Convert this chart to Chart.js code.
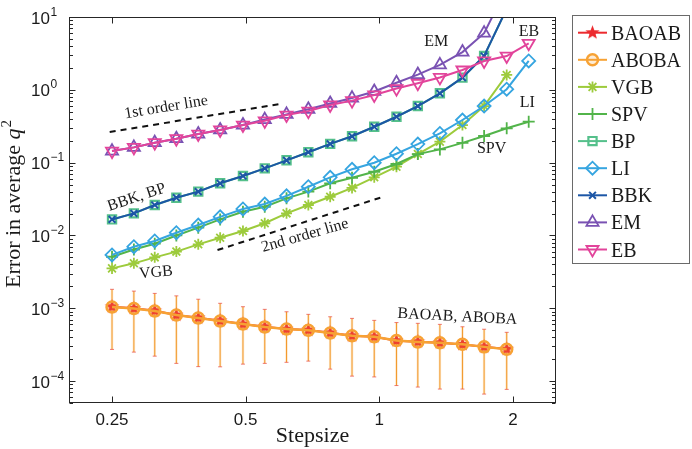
<!DOCTYPE html>
<html>
<head>
<meta charset="utf-8">
<script src="https://cdn.jsdelivr.net/npm/chart.js@4.4.0/dist/chart.umd.min.js"></script>
<style>
html, body { margin: 0; padding: 0; background: #fff; }
canvas { display: block; }
</style>
</head>
<body>
<canvas id="myChart" width="692" height="449"></canvas>
<script>
// stepsizes (shared x values)
const stepsizes = [0.25, 0.28, 0.312, 0.349, 0.391, 0.438, 0.493, 0.552, 0.618, 0.692,
                   0.775, 0.868, 0.974, 1.093, 1.221, 1.369, 1.539, 1.722, 1.936, 2.17];

// error in average q^2
const baoab = [0.00105, 0.000997, 0.000925, 0.000807, 0.00074, 0.000674, 0.000607, 0.000557, 0.000518, 0.000502,
               0.00046, 0.000419, 0.000406, 0.000358, 0.000347, 0.000336, 0.000319, 0.000296, 0.000275];
const aboba = [0.00104, 0.00099, 0.00092, 0.00081, 0.000735, 0.00067, 0.00061, 0.000555, 0.00052, 0.0005,
               0.000458, 0.00042, 0.000405, 0.00036, 0.000345, 0.000335, 0.00032, 0.000295, 0.000274];
const vgb = [0.00353, 0.00414, 0.0050, 0.0060, 0.00755, 0.0093, 0.0115, 0.0147, 0.0201, 0.0262,
             0.034, 0.045, 0.0628, 0.088, 0.131, 0.194, 0.328, 0.598, 1.6];
const spv = [0.0051, 0.0064, 0.0077, 0.0100, 0.0128, 0.0166, 0.0212, 0.0248, 0.0323, 0.040,
             0.052, 0.062, 0.075, 0.0957, 0.131, 0.152, 0.187, 0.232, 0.296, 0.365];
const bp = [0.0166, 0.0201, 0.0262, 0.033, 0.040, 0.052, 0.0655, 0.0835, 0.1076, 0.139,
            0.181, 0.23, 0.311, 0.427, 0.598, 0.895, 1.47, 2.91, 13];
const li = [0.0054, 0.0070, 0.0084, 0.0109, 0.0139, 0.018, 0.0231, 0.027, 0.035, 0.0467,
            0.0628, 0.081, 0.0997, 0.1325, 0.18, 0.252, 0.385, 0.599, 1.02, 2.49];
const bbk = [0.0166, 0.0201, 0.0262, 0.033, 0.040, 0.052, 0.0655, 0.0835, 0.1076, 0.139,
             0.181, 0.23, 0.311, 0.427, 0.598, 0.895, 1.47, 2.91, 13];
const em = [0.144, 0.162, 0.188, 0.213, 0.247, 0.281, 0.328, 0.39, 0.46, 0.54,
            0.65, 0.77, 0.95, 1.25, 1.62, 2.2, 3.3, 6.0, 25];
const eb = [0.144, 0.162, 0.188, 0.213, 0.247, 0.281, 0.328, 0.375, 0.45, 0.51,
            0.62, 0.71, 0.85, 1.04, 1.23, 1.48, 1.87, 2.49, 2.91, 4.35];

// error bars of the BAOAB / ABOBA runs
const errHigh = [0.00182, 0.00172, 0.0016, 0.00148, 0.00133, 0.00117, 0.00105, 0.000966, 0.000895, 0.000825,
                 0.000764, 0.000726, 0.000682, 0.000636, 0.000621, 0.000601, 0.000557, 0.000515, 0.000467];
const errLow = [0.000272, 0.00025, 0.00022, 0.000175, 0.000158, 0.000157, 0.000171, 0.000175, 0.000181, 0.000188,
                0.000146, 0.000117, 0.000114, 0.0000868, 0.0000828, 0.0000777, 0.0000777, 0.0000663, 0.0000769];

// reference slopes
const firstOrderX = [0.247, 0.597];
const firstOrderY = [0.263, 0.638];
const secondOrderX = [0.432, 1.016];
const secondOrderY = [0.0063, 0.0337];

// ticks
const xTicks = [0.25, 0.5, 1, 2];
const xTickLabels = ['0.25', '0.5', '1', '2'];
const yDecades = [-4, -3, -2, -1, 0, 1];

// text labels in the plot (data coordinates)
const notes = [
  { text: '1st order line', x: 0.331, y: 0.575, rot: -9.5 },
  { text: '2nd order line', x: 0.680, y: 0.00997, rot: -16 },
  { text: 'BBK, BP', x: 0.284, y: 0.0332, rot: -18.5 },
  { text: 'VGB', x: 0.314, y: 0.00309, rot: -5 },
  { text: 'EM', x: 1.344, y: 4.58, rot: 0 },
  { text: 'EB', x: 2.174, y: 6.22, rot: 0 },
  { text: 'LI', x: 2.155, y: 0.665, rot: 0 },
  { text: 'SPV', x: 1.79, y: 0.154, rot: 0 },
  { text: 'BAOAB, ABOBA', x: 1.499, y: 0.000764, rot: 3 }
];

const SERIF = '"Liberation Serif", "Times New Roman", serif';
const SANS = '"Liberation Sans", Arial, sans-serif';

function points(values) {
  return values.map((v, i) => ({ x: stepsizes[i], y: v }));
}

function makeStar(r, color) {
  const c = document.createElement('canvas');
  c.width = c.height = Math.ceil(r * 2 + 2);
  const g = c.getContext('2d');
  g.translate(c.width / 2, c.height / 2);
  g.beginPath();
  for (let i = 0; i < 10; i++) {
    const rr = i % 2 === 0 ? r : r * 0.42;
    const a = -Math.PI / 2 + i * Math.PI / 5;
    g.lineTo(rr * Math.cos(a), rr * Math.sin(a));
  }
  g.closePath();
  g.fillStyle = color;
  g.fill();
  return c;
}

const starImg = makeStar(7.5, '#ec2a2e');

function series(label, values, color, style, radius, order, extra) {
  return Object.assign({
    label: label,
    data: points(values),
    borderColor: color,
    backgroundColor: color,
    borderWidth: 2,
    pointStyle: style,
    pointRadius: radius,
    pointBorderWidth: 1.8,
    pointBorderColor: color,
    pointBackgroundColor: 'rgba(0,0,0,0)',
    tension: 0,
    clip: 0,
    order: order
  }, extra || {});
}

const datasets = [
  series('BAOAB', baoab, '#ec2a2e', starImg, 7, 9, { pointBackgroundColor: '#ec2a2e' }),
  series('ABOBA', aboba, '#f7a234', 'circle', 5.5, 8, { borderWidth: 2.5, pointBorderWidth: 2.5, pointBackgroundColor: 'rgba(247,162,52,0.2)' }),
  series('VGB', vgb, '#9dcb3c', 'star', 5.5, 7),
  series('SPV', spv, '#52b44a', 'cross', 6, 6),
  series('BP', bp, '#55c08b', 'rect', 5.8, 5, { pointBorderWidth: 2.2 }),
  series('LI', li, '#36a5e0', 'rectRot', 6.5, 4),
  series('BBK', bbk, '#1c56a6', 'crossRot', 4.8, 3, { pointBorderWidth: 2 }),
  series('EM', em, '#7a52b3', 'triangle', 7, 2),
  series('EB', eb, '#e2449b', 'triangle', 7, 1, { pointRotation: 180 }),
  {
    label: 'first', data: firstOrderX.map((x, i) => ({ x: x, y: firstOrderY[i] })),
    borderColor: '#111', borderWidth: 2, borderDash: [6, 5], pointRadius: 0, order: 0
  },
  {
    label: 'second', data: secondOrderX.map((x, i) => ({ x: x, y: secondOrderY[i] })),
    borderColor: '#111', borderWidth: 2, borderDash: [6, 5], pointRadius: 0, order: 0
  }
];

const legendNames = ['BAOAB', 'ABOBA', 'VGB', 'SPV', 'BP', 'LI', 'BBK', 'EM', 'EB'];

function drawMarker(ctx, ds, x, y) {
  ctx.save();
  ctx.strokeStyle = ds.pointBorderColor;
  ctx.fillStyle = ds.pointBackgroundColor;
  ctx.lineWidth = ds.pointBorderWidth;
  if (Chart.helpers && Chart.helpers.drawPoint) {
    Chart.helpers.drawPoint(ctx, {
      pointStyle: ds.pointStyle, radius: ds.pointRadius,
      rotation: ds.pointRotation || 0, borderWidth: ds.pointBorderWidth
    }, x, y);
  } else {
    ctx.beginPath();
    ctx.arc(x, y, ds.pointRadius, 0, Math.PI * 2);
    ctx.stroke();
  }
  ctx.restore();
}

const errorBars = {
  id: 'errorBars',
  beforeDatasetsDraw(chart) {
    const ctx = chart.ctx, xs = chart.scales.x, ys = chart.scales.y, a = chart.chartArea;
    ctx.save();
    ctx.beginPath();
    ctx.rect(a.left, a.top, a.right - a.left, a.bottom - a.top);
    ctx.clip();
    errHigh.forEach((hi, k) => {
      const px = xs.getPixelForValue(stepsizes[k]);
      const yh = ys.getPixelForValue(hi);
      const yl = ys.getPixelForValue(errLow[k]);
      ctx.strokeStyle = 'rgba(247,162,52,0.25)';
      ctx.lineWidth = 2.5;
      ctx.beginPath(); ctx.moveTo(px, yh); ctx.lineTo(px, yl); ctx.stroke();
      ctx.strokeStyle = '#f39a2c';
      ctx.lineWidth = 1;
      ctx.beginPath(); ctx.moveTo(px, yh); ctx.lineTo(px, yl); ctx.stroke();
      ctx.strokeStyle = 'rgba(232,80,74,0.75)';
      ctx.lineWidth = 1;
      ctx.beginPath();
      ctx.moveTo(px - 2, yh); ctx.lineTo(px + 2, yh);
      ctx.moveTo(px - 2, yl); ctx.lineTo(px + 2, yl);
      ctx.stroke();
    });
    ctx.restore();
  }
};

const decorations = {
  id: 'decorations',
  afterDraw(chart) {
    const ctx = chart.ctx, xs = chart.scales.x, ys = chart.scales.y, a = chart.chartArea;
    const L = Math.round(a.left) + 0.5, R = Math.round(a.right) - 0.5;
    const T = Math.round(a.top) + 0.5, B = Math.round(a.bottom) - 0.5;
    ctx.save();
    ctx.strokeStyle = '#262626';
    ctx.lineWidth = 1;
    ctx.strokeRect(L, T, R - L, B - T);

    // y ticks, major and minor, both sides
    ctx.beginPath();
    for (let d = -5; d <= 1; d++) {
      for (let m = 1; m <= 9; m++) {
        const v = m * Math.pow(10, d);
        if (v < ys.min * 0.999 || v > ys.max * 1.001) continue;
        const py = Math.round(ys.getPixelForValue(v)) + 0.5;
        const len = m === 1 ? 6 : 3.5;
        ctx.moveTo(L, py); ctx.lineTo(L + len, py);
        ctx.moveTo(R, py); ctx.lineTo(R - len, py);
      }
    }
    // x ticks, bottom and top
    xTicks.forEach(v => {
      const px = Math.round(xs.getPixelForValue(v)) + 0.5;
      ctx.moveTo(px, B); ctx.lineTo(px, B - 6);
      ctx.moveTo(px, T); ctx.lineTo(px, T + 6);
    });
    ctx.stroke();

    // y tick labels 10^d
    ctx.fillStyle = '#1a1a1a';
    ctx.textAlign = 'left';
    ctx.textBaseline = 'alphabetic';
    yDecades.forEach(d => {
      const py = ys.getPixelForValue(Math.pow(10, d));
      ctx.font = '17px ' + SANS;
      ctx.fillText('10', 31, py + 6.5);
      const w = ctx.measureText('10').width;
      ctx.font = '12px ' + SANS;
      ctx.fillText(String(d).replace('-', '\u2212'), 31 + w + 0.5, py - 1.5);
    });

    // x tick labels
    ctx.font = '17px ' + SANS;
    ctx.textAlign = 'center';
    xTicks.forEach((v, i) => {
      ctx.fillText(xTickLabels[i], xs.getPixelForValue(v), 425);
    });

    // axis titles
    ctx.font = '22px ' + SERIF;
    ctx.fillText('Stepsize', (a.left + a.right) / 2, 442);

    ctx.save();
    ctx.translate(20, 204);
    ctx.rotate(-Math.PI / 2);
    ctx.textAlign = 'left';
    const part1 = 'Error in average ';
    ctx.font = '22px ' + SERIF;
    const w1 = ctx.measureText(part1).width;
    ctx.font = 'italic 22px ' + SERIF;
    const w2 = ctx.measureText('q').width;
    ctx.font = '15px ' + SERIF;
    const w3 = ctx.measureText('2').width;
    let x0 = -(w1 + w2 + w3 + 1) / 2;
    ctx.font = '22px ' + SERIF;
    ctx.fillText(part1, x0, 0);
    ctx.font = 'italic 22px ' + SERIF;
    ctx.fillText('q', x0 + w1, 0);
    ctx.font = '15px ' + SERIF;
    ctx.fillText('2', x0 + w1 + w2 + 1, -9);
    ctx.restore();

    // notes inside the plot
    ctx.font = '16px ' + SERIF;
    ctx.textAlign = 'center';
    ctx.textBaseline = 'middle';
    notes.forEach(n => {
      ctx.save();
      ctx.translate(xs.getPixelForValue(n.x), ys.getPixelForValue(n.y));
      ctx.rotate(n.rot * Math.PI / 180);
      ctx.fillText(n.text, 0, 0);
      ctx.restore();
    });

    // legend box
    ctx.strokeStyle = '#6a6a6a';
    ctx.lineWidth = 1;
    ctx.strokeRect(572.5, 15.5, 117, 248);
    ctx.font = '20px ' + SERIF;
    ctx.textAlign = 'left';
    ctx.textBaseline = 'alphabetic';
    legendNames.forEach((name, i) => {
      const ds = chart.data.datasets.find(s => s.label === name);
      const y = 32.7 + i * 27.1;
      ctx.strokeStyle = ds.borderColor;
      ctx.lineWidth = 2;
      ctx.beginPath(); ctx.moveTo(578, y); ctx.lineTo(607, y); ctx.stroke();
      drawMarker(ctx, ds, 592.5, y);
      ctx.fillStyle = '#1a1a1a';
      ctx.fillText(name, 611, y + 7);
    });
    ctx.restore();
  }
};

const ctx = document.getElementById('myChart');
new Chart(ctx, {
  type: 'line',
  data: { datasets: datasets },
  options: {
    responsive: false,
    animation: false,
    layout: { padding: { left: 0, right: 136, top: 17, bottom: 0 } },
    scales: {
      x: {
        type: 'logarithmic', min: 0.2, max: 2.5,
        ticks: { display: false }, grid: { display: false }, border: { display: false },
        afterFit: s => { s.height = 46; }
      },
      y: {
        type: 'logarithmic', min: 5e-5, max: 10,
        ticks: { display: false }, grid: { display: false }, border: { display: false },
        afterFit: s => { s.width = 69; }
      }
    },
    plugins: { legend: { display: false }, tooltip: { enabled: false } }
  },
  plugins: [errorBars, decorations]
});
</script>
</body>
</html>
